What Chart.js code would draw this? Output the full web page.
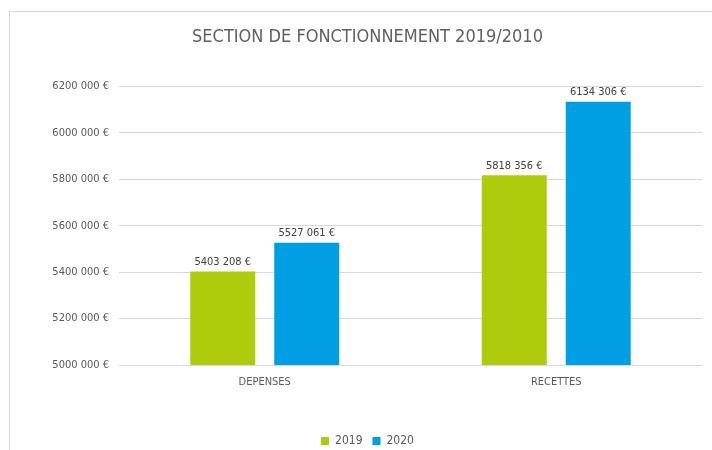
<!DOCTYPE html>
<html lang="fr">
<head>
<meta charset="utf-8">
<script src="https://cdn.jsdelivr.net/npm/chart.js@4"></script>
<style>
  html, body { margin: 0; padding: 0; background: #fff; overflow: hidden; }
  #cadre {
    position: absolute; left: 9px; top: 11px;
    width: 716px; height: 460px;
    border-left: 1px solid #d9d9d9; border-top: 1px solid #d9d9d9;
  }
  #graphique { display: block; }
</style>
</head>
<body>
<div id="cadre"><canvas id="graphique" width="716" height="449"></canvas></div>
<script>
const categories = ['DEPENSES', 'RECETTES'];
const annees = ['2019', '2020'];
const valeurs2019 = [5403208, 5818356];
const valeurs2020 = [5527061, 6134306];
const bornesAxe = { min: 5000000, max: 6200000, pas: 200000 };

const police = "'Liberation Sans Narrow', 'DejaVu Sans Condensed', sans-serif";

const formatEuro = v => {
  const milliers = Math.floor(v / 1000);
  const reste = String(Math.round(v % 1000)).padStart(3, '0');
  return milliers + ' ' + reste + ' €';
};

// étiquettes au-dessus des barres
const etiquettesValeurs = {
  id: 'etiquettesValeurs',
  afterDatasetsDraw(chart) {
    const ctx = chart.ctx;
    ctx.save();
    ctx.font = '11px ' + police;
    ctx.fillStyle = '#404040';
    ctx.textAlign = 'center';
    ctx.textBaseline = 'bottom';
    chart.data.datasets.forEach((ds, i) => {
      chart.getDatasetMeta(i).data.forEach((barre, j) => {
        ctx.fillText(formatEuro(ds.data[j]), barre.x, barre.y - 4);
      });
    });
    ctx.restore();
  }
};

const ctx = document.getElementById('graphique').getContext('2d');
new Chart(ctx, {
  type: 'bar',
  data: {
    labels: categories,
    datasets: [{
      label: annees[0],
      data: valeurs2019,
      backgroundColor: '#b0cb0b',
      categoryPercentage: 0.576,
      barPercentage: 0.774
    }, {
      label: annees[1],
      data: valeurs2020,
      backgroundColor: '#009fe3',
      categoryPercentage: 0.576,
      barPercentage: 0.774
    }]
  },
  options: {
    responsive: false,
    animation: false,
    layout: { padding: { left: 23, right: 24, top: 0, bottom: 4 } },
    plugins: {
      title: {
        display: true,
        text: 'SECTION DE FONCTIONNEMENT 2019/2010',
        color: '#606060',
        font: { family: police, size: 18, weight: 'normal' },
        padding: { top: 15, bottom: 38 }
      },
      legend: {
        position: 'bottom',
        labels: {
          color: '#595959',
          font: { family: police, size: 12 },
          boxWidth: 8,
          boxHeight: 8,
          padding: 10
        }
      },
      tooltip: { enabled: false }
    },
    scales: {
      x: {
        grid: { display: false, drawTicks: false },
        border: { display: false },
        ticks: { color: '#595959', font: { family: police, size: 11 }, padding: 11 },
        afterFit: scale => { scale.height = 60; }
      },
      y: {
        min: bornesAxe.min,
        max: bornesAxe.max,
        grid: { color: '#d9d9d9', drawTicks: false },
        border: { display: false },
        ticks: {
          stepSize: bornesAxe.pas,
          color: '#595959',
          font: { family: police, size: 11 },
          padding: 10,
          callback: v => formatEuro(v)
        },
        afterFit: scale => { scale.width = 86; }
      }
    }
  },
  plugins: [etiquettesValeurs]
});
</script>
</body>
</html>
